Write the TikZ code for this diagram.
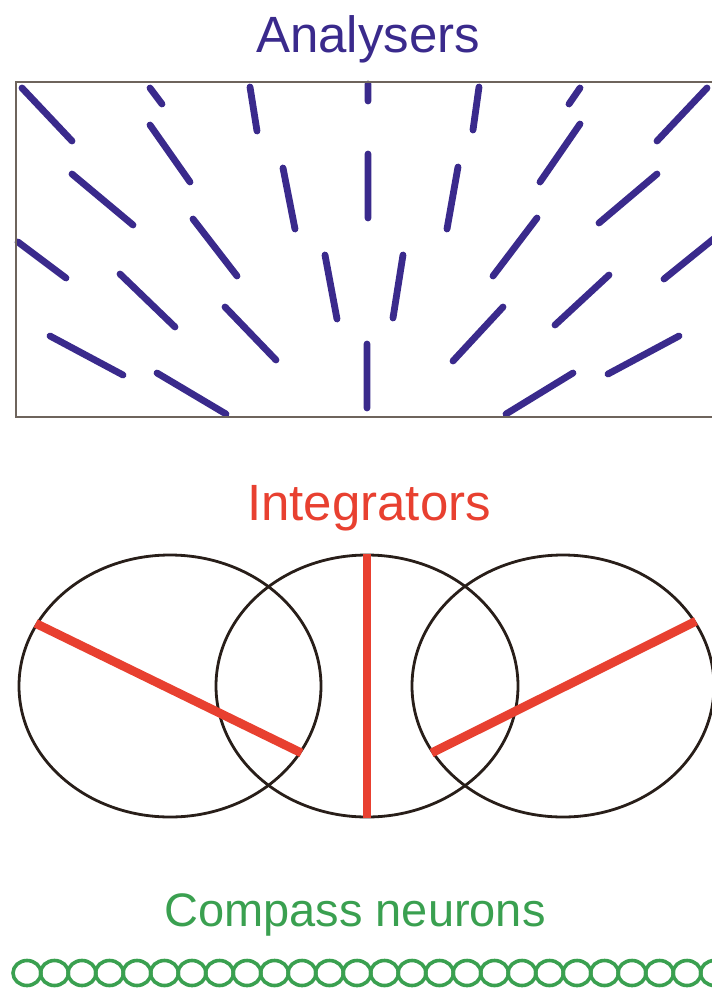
\documentclass[tikz,border=0pt]{standalone}
\usepackage{fontspec}
\setmainfont{Liberation Sans}
\usepackage{xcolor}
\usetikzlibrary{shapes.geometric}

\definecolor{analyserblue}{RGB}{58,42,140}
\definecolor{integratorred}{RGB}{232,64,48}
\definecolor{compassgreen}{RGB}{58,160,80}
\definecolor{boxgrey}{RGB}{110,100,92}
\definecolor{ringbrown}{RGB}{40,30,25}

\begin{document}
\begin{tikzpicture}[x=0.5pt, y=-0.5pt,
  title/.style={font=\fontsize{25.5}{30}\selectfont, anchor=base, inner sep=0pt},
  bar/.style={analyserblue, line width=3.4pt, line cap=round},
  ring/.style={ellipse, draw=ringbrown, line width=1.4pt, minimum width=151pt, minimum height=131pt, inner sep=0pt},
  spoke/.style={integratorred, line width=4.4pt},
  cell/.style={compassgreen, line width=1.8pt}]
  \useasboundingbox (0,0) rectangle (712,991);
  \clip (0,0) rectangle (712,991);

  % Analysers
  \node[title, text=analyserblue] (analysers) at (368,52) {Analysers};

  \draw[bar] (22,88) -- (72,141)  (150,88) -- (162,104)  (250,87) -- (257,131)
    (368,84) -- (368,101)  (479,87) -- (473,130)  (580,88) -- (569,104)  (707,88) -- (657,141);
  \draw[bar] (150,125) -- (190,182)  (72,174) -- (133,225)  (283,168) -- (295,229)
    (368,154) -- (368,218)  (458,167) -- (447,229)  (580,124) -- (540,182)  (657,174) -- (599,223);
  \draw[bar] (18,242) -- (66,278)  (193,219) -- (237,276)  (120,274) -- (175,327)
    (325,255) -- (337,319)  (403,255) -- (393,318)  (537,218) -- (493,276)
    (609,275) -- (555,325)  (716,237) -- (664,279);
  \draw[bar] (50,336) -- (123,375)  (157,373) -- (226,414)  (225,307) -- (276,360)
    (367,344) -- (367,408)  (503,307) -- (453,361)  (573,373) -- (506,414)  (679,336) -- (608,374);

  \draw[boxgrey, line width=1.1pt] (16,82) rectangle (720,417);

  % Integrators
  \node[title, text=integratorred] (integrators) at (369,520) {Integrators};

  \node[ring] (leftring) at (170,686) {};
  \node[ring] (midring) at (367,686) {};
  \node[ring] (rightring) at (563,686) {};

  \draw[spoke] (leftring.155) -- (leftring.-27);
  \draw[spoke] (midring.north) -- (midring.south);
  \draw[spoke] (rightring.26) -- (rightring.207);

  % Compass neurons
  \node[title, text=compassgreen, font=\fontsize{23.5}{28}\selectfont] (compass) at (355,926) {Compass neurons};
  \foreach \i in {0,...,25}
    \draw[cell] (27+27.5*\i,973) ellipse [x radius=14, y radius=12.5];
\end{tikzpicture}
\end{document}
